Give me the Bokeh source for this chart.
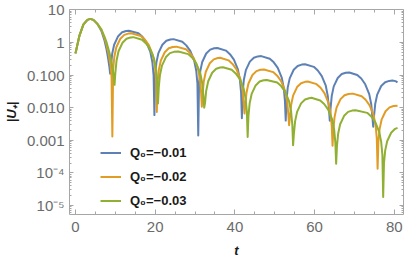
from bokeh.plotting import figure
from bokeh.models import (Range1d, FixedTicker, LinearAxis, LogAxis, Legend,
                          LegendItem, CustomJSTickFormatter)
from bokeh.embed import file_html
from bokeh.resources import INLINE

# ---- data (t, |U+|) ----
t_q1 = [0, 1, 2, 3, 3.7, 4.5, 5.5, 6.5, 7.3, 7.8, 8.2, 8.5, 8.7,
        8.9, 9.2, 9.7, 10.7, 11.7, 12.7, 13.4, 15.8, 16.8, 17.8, 18.8, 19.3, 19.6, 19.8,
        20.0, 20.3, 20.8, 21.8, 22.8, 23.8, 24.6, 26.8, 27.8, 28.8, 29.8, 30.3, 30.6, 30.8,
        31.0, 31.3, 31.8, 32.8, 33.8, 34.8, 35.6, 37.75, 38.75, 39.75, 40.75, 41.25, 41.55, 41.75,
        41.95, 42.25, 42.75, 43.75, 44.75, 45.75, 46.6, 48.75, 49.75, 50.75, 51.75, 52.25, 52.55, 52.75,
        52.95, 53.25, 53.75, 54.75, 55.75, 56.75, 57.6, 59.8, 60.8, 61.8, 62.8, 63.3, 63.6, 63.8,
        64.0, 64.3, 64.8, 65.8, 66.8, 67.8, 68.7, 70.7, 71.7, 72.7, 73.7, 74.2, 74.5, 74.7,
        74.9, 75.2, 75.7, 76.7, 77.7, 78.7, 79.5, 80.3, 80.8]
u_q1 = [0.46, 1.62, 3.55, 4.9, 5.25, 4.9, 3.7, 2.24, 1.12, 0.60, 0.32, 0.18, 0.11,
        0.18, 0.44, 0.85, 1.55, 2.04, 2.24, 2.29, 1.91, 1.48, 1.0, 0.50, 0.245, 0.098, 0.0059,
        0.10, 0.24, 0.47, 0.85, 1.12, 1.23, 1.26, 1.05, 0.81, 0.55, 0.275, 0.135, 0.054, 0.0014,
        0.054, 0.129, 0.25, 0.457, 0.60, 0.66, 0.676, 0.56, 0.437, 0.295, 0.148, 0.072, 0.029, 0.0047,
        0.030, 0.072, 0.141, 0.257, 0.339, 0.372, 0.38, 0.316, 0.245, 0.166, 0.083, 0.041, 0.016, 0.0040,
        0.017, 0.041, 0.079, 0.145, 0.19, 0.209, 0.214, 0.178, 0.138, 0.093, 0.047, 0.023, 0.0091, 0.0040,
        0.0095, 0.023, 0.045, 0.081, 0.107, 0.117, 0.12, 0.10, 0.078, 0.052, 0.026, 0.0129, 0.0051, 0.0026,
        0.0054, 0.0129, 0.025, 0.046, 0.060, 0.066, 0.068, 0.065, 0.060]

t_q2 = [0, 1, 2, 3, 3.7, 4.5, 5.5, 6.5, 7.3, 7.8, 8.3, 8.8, 9.05, 9.25,
        9.45, 9.75, 10.25, 11.25, 12.25, 13.25, 14.0, 16.4, 17.4, 18.4, 19.4, 19.9, 20.2, 20.4,
        20.6, 20.9, 21.4, 22.4, 23.4, 24.4, 25.3, 27.7, 28.7, 29.7, 30.7, 31.2, 31.5, 31.7,
        31.9, 32.2, 32.7, 33.7, 34.7, 35.7, 36.3, 38.4, 39.4, 40.4, 41.4, 41.9, 42.2, 42.4,
        42.6, 42.9, 43.4, 44.4, 45.4, 46.4, 47.3, 49.6, 50.6, 51.6, 52.6, 53.1, 53.4, 53.6,
        53.8, 54.1, 54.6, 55.6, 56.6, 57.6, 58.3, 60.5, 61.5, 62.5, 63.5, 64.0, 64.3, 64.5,
        64.7, 65.0, 65.5, 66.5, 67.5, 68.5, 69.6, 71.8, 72.8, 73.8, 74.8, 75.3, 75.6, 75.8,
        76.0, 76.3, 76.8, 77.8, 78.8, 79.8, 80.8]
u_q2 = [0.46, 1.62, 3.55, 4.9, 5.25, 4.9, 3.7, 2.4, 1.32, 0.83, 0.45, 0.2, 0.089, 0.0013,
        0.151, 0.363, 0.708, 1.29, 1.70, 1.86, 1.91, 1.58, 1.23, 0.83, 0.417, 0.204, 0.081, 0.0074,
        0.059, 0.141, 0.275, 0.50, 0.66, 0.724, 0.741, 0.617, 0.479, 0.324, 0.162, 0.079, 0.0316, 0.0107,
        0.0269, 0.0646, 0.126, 0.229, 0.302, 0.331, 0.339, 0.282, 0.219, 0.148, 0.0741, 0.0363, 0.0145, 0.0066,
        0.0117, 0.0282, 0.055, 0.10, 0.132, 0.145, 0.148, 0.123, 0.0955, 0.0646, 0.0324, 0.0158, 0.0063, 0.0029,
        0.0050, 0.0120, 0.0234, 0.0427, 0.0562, 0.0617, 0.0631, 0.0525, 0.0407, 0.0275, 0.0138, 0.0068, 0.0027, 0.00068,
        0.00214, 0.00513, 0.0100, 0.0182, 0.024, 0.0263, 0.0269, 0.0224, 0.0174, 0.0117, 0.0059, 0.0029, 0.00115, 0.000135,
        0.00091, 0.00219, 0.00427, 0.00776, 0.0102, 0.0112, 0.0115]

t_q3 = [0, 1, 2, 3, 3.7, 4.5, 5.5, 6.5, 7.3, 7.8, 8.5, 9.2, 9.55, 9.8,
        10.0, 10.3, 10.8, 11.8, 12.8, 13.8, 14.5, 16.7, 17.7, 18.7, 19.7, 20.2, 20.5, 20.7,
        20.9, 21.2, 21.7, 22.7, 23.7, 24.7, 25.8, 28.3, 29.3, 30.3, 31.3, 31.8, 32.1, 32.3,
        32.5, 32.8, 33.3, 34.3, 35.3, 36.3, 37.0, 39.2, 40.2, 41.2, 42.2, 42.7, 43.0, 43.2,
        43.4, 43.7, 44.2, 45.2, 46.2, 47.2, 48.0, 50.6, 51.6, 52.6, 53.6, 54.1, 54.4, 54.6,
        54.8, 55.1, 55.6, 56.6, 57.6, 58.6, 59.2, 61.4, 62.4, 63.4, 64.4, 64.9, 65.2, 65.4,
        65.6, 65.9, 66.4, 67.4, 68.4, 69.4, 70.3, 73.2, 74.2, 75.2, 76.2, 76.7, 77.0, 77.2,
        77.4, 77.7, 78.2, 79.2, 80.2, 80.8]
u_q3 = [0.46, 1.62, 3.55, 4.9, 5.25, 4.9, 3.7, 2.5, 1.48, 1.0, 0.5, 0.2, 0.1, 0.05,
        0.115, 0.275, 0.537, 0.977, 1.29, 1.41, 1.45, 1.20, 0.933, 0.631, 0.316, 0.155, 0.0617, 0.0135,
        0.0417, 0.10, 0.195, 0.355, 0.468, 0.513, 0.525, 0.437, 0.339, 0.229, 0.115, 0.0562, 0.0224, 0.010,
        0.0138, 0.0331, 0.0646, 0.1175, 0.155, 0.170, 0.174, 0.1445, 0.112, 0.0759, 0.038, 0.0186, 0.0074, 0.00126,
        0.00562, 0.0135, 0.0263, 0.0479, 0.0631, 0.0692, 0.0708, 0.0589, 0.0457, 0.0309, 0.0155, 0.00759, 0.00302, 0.000708,
        0.00158, 0.0038, 0.00741, 0.0135, 0.0178, 0.0195, 0.020, 0.0166, 0.0129, 0.0087, 0.00437, 0.00214, 0.00085, 0.00019,
        0.00066, 0.00158, 0.00309, 0.00562, 0.00741, 0.00813, 0.00832, 0.00692, 0.00537, 0.00363, 0.00182, 0.00089, 0.000355, 0.0000182,
        0.0002, 0.00048, 0.00093, 0.0017, 0.00224, 0.0024]

series_labels = ["Q₀=−0.01", "Q₀=−0.02", "Q₀=−0.03"]
series_colors = ["#5E81B5", "#E19C24", "#8FB032"]

x_ticks = [0, 20, 40, 60, 80]
x_minor = [-5, 5, 10, 15, 25, 30, 35, 45, 50, 55, 65, 70, 75, 85]
y_ticks = [1e-5, 1e-4, 1e-3, 1e-2, 1e-1, 1, 10]
y_tick_labels = ["10⁻⁵", "10⁻⁴", "0.001", "0.010", "0.100", "1", "10"]
y_minor = [k * 10.0 ** d for d in range(-6, 2) for k in range(2, 10)]
x_title = "t"
y_title = "|U₊|"

AXIS_GRAY = "#a6a6a6"
LABEL_GRAY = "#6b6b6b"
FONT = "Liberation Sans"

p = figure(width=409, height=262,
           x_range=Range1d(-1.5, 82.3), y_range=Range1d(5.3e-6, 10.2),
           y_axis_type="log", output_backend="svg", toolbar_location=None,
           min_border_left=68, min_border_right=6, min_border_top=9,
           min_border_bottom=48)
p.outline_line_color = None
p.grid.visible = False
p.background_fill_color = "white"

renderers = []
for tt, uu, col in [(t_q1, u_q1, series_colors[0]),
                    (t_q2, u_q2, series_colors[1]),
                    (t_q3, u_q3, series_colors[2])]:
    r = p.line(tt, uu, line_width=2, color=col, line_join="round")
    renderers.append(r)

ytick_fmt = CustomJSTickFormatter(args=dict(tvals=y_ticks, tlabs=y_tick_labels), code="""
let best = -1, bd = 1e9;
for (let i = 0; i < tvals.length; i++) {
  const d = Math.abs(Math.log10(tick) - Math.log10(tvals[i]));
  if (d < bd) { bd = d; best = i; }
}
return bd < 0.01 ? tlabs[best] : "";
""")
blank_fmt = CustomJSTickFormatter(code="return '';")

def style_axis(ax, labels=True):
    ax.axis_line_color = AXIS_GRAY
    ax.major_tick_line_color = AXIS_GRAY
    ax.minor_tick_line_color = AXIS_GRAY
    ax.major_tick_out = 0
    ax.minor_tick_out = 0
    ax.major_tick_in = 5
    ax.minor_tick_in = 3
    ax.major_label_text_font = FONT
    ax.major_label_text_color = LABEL_GRAY
    ax.major_label_text_font_size = "15px" if labels else "0px"
    if not labels:
        ax.major_label_standoff = 0

xticker = FixedTicker(ticks=x_ticks, minor_ticks=x_minor)
yticker = FixedTicker(ticks=y_ticks, minor_ticks=y_minor)

xa = p.xaxis[0]
xa.ticker = xticker
style_axis(xa)
xa.major_label_standoff = 7
xa.axis_label = x_title
xa.axis_label_text_font = FONT
xa.axis_label_text_font_style = "bold italic"
xa.axis_label_text_font_size = "13px"
xa.axis_label_text_color = "#1a1a1a"
xa.axis_label_standoff = 8

ya = p.yaxis[0]
ya.ticker = yticker
ya.formatter = ytick_fmt
style_axis(ya)
ya.major_tick_in = 4
ya.minor_tick_in = 2
ya.major_label_standoff = 5
ya.axis_label = y_title
ya.axis_label_text_font = FONT
ya.axis_label_text_font_style = "bold italic"
ya.axis_label_text_font_size = "13px"
ya.axis_label_text_color = "#1a1a1a"
ya.axis_label_standoff = 5

top = LinearAxis(ticker=xticker, formatter=blank_fmt)
style_axis(top, labels=False)
p.add_layout(top, "above")

right = LogAxis(ticker=yticker, formatter=blank_fmt)
style_axis(right, labels=False)
right.major_tick_in = 4
right.minor_tick_in = 2
p.add_layout(right, "right")

legend = Legend(items=[LegendItem(label=lab, renderers=[r])
                       for lab, r in zip(series_labels, renderers)],
                location=(31, 3), padding=0, margin=0, spacing=3,
                glyph_width=21, glyph_height=21, label_height=21,
                label_standoff=9, border_line_color=None,
                background_fill_alpha=0,
                label_text_font=FONT, label_text_font_style="bold",
                label_text_font_size="13px", label_text_color="#1a1a1a")
p.add_layout(legend)

open("out.html", "w").write(file_html(p, INLINE))
